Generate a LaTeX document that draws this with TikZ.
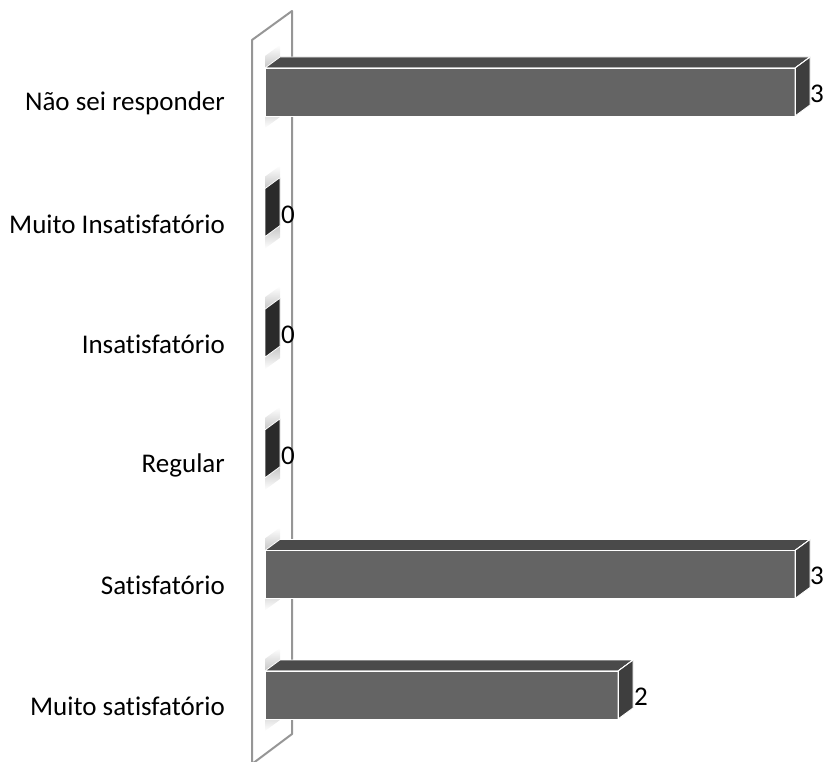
\documentclass[tikz,border=0pt]{standalone}
\usepackage{fontspec}
\setmainfont[Ligatures={NoCommon}]{Carlito}
\definecolor{barfront}{RGB}{100,100,100}
\definecolor{bartop}{RGB}{74,74,74}
\definecolor{barside}{RGB}{62,62,62}
\definecolor{barzero}{RGB}{42,42,42}
\definecolor{wallline}{RGB}{150,150,150}
\tikzset{
  catlabel/.style={anchor=east, inner sep=0pt, font=\fontsize{27}{32}\selectfont},
  vallabel/.style={anchor=west, inner sep=0pt, font=\fontsize{27}{32}\selectfont},
  face/.style={draw=white, line width=0.8pt, line join=round},
  shadowup/.style={top color=white, bottom color=gray!45},
  shadowdown/.style={top color=gray!45, bottom color=white}
}
% #1 y of bar centre, #2 x of bar end
\newcommand{\chartbar}[2]{%
  \shade[shadowup] (265,#1-24) -- (280,#1-35) -- (280,#1-47) -- (265,#1-36) -- cycle;
  \shade[shadowdown] (265,#1+24) -- (280,#1+13) -- (280,#1+25) -- (265,#1+36) -- cycle;
  \fill[face, fill=bartop] (265,#1-24) -- (280,#1-35) -- (#2+15,#1-35) -- (#2,#1-24) -- cycle;
  \fill[face, fill=barside] (#2,#1-24) -- (#2+15,#1-35) -- (#2+15,#1+13) -- (#2,#1+24) -- cycle;
  \fill[face, fill=barfront] (265,#1-24) rectangle (#2,#1+24);
  \draw[white, line width=0.8pt] (265,#1-24) -- (#2,#1-24) -- (#2+15,#1-35) (#2,#1-24) -- (#2,#1+24);
}
\newcommand{\zerobar}[1]{%
  \shade[shadowup] (265,#1-24) -- (280,#1-35) -- (280,#1-47) -- (265,#1-36) -- cycle;
  \shade[shadowdown] (265,#1+24) -- (280,#1+13) -- (280,#1+25) -- (265,#1+36) -- cycle;
  \fill[face, fill=barzero] (265,#1-24) -- (280,#1-35) -- (280,#1+13) -- (265,#1+24) -- cycle;
}

\begin{document}
\begin{tikzpicture}[x=1pt, y=-1pt]
    \useasboundingbox (0,0) rectangle (827,762);
    \clip (0,0) rectangle (827,762);
    % wall
    \draw[wallline, line width=2pt, line join=round]
        (252,40) -- (292,11) -- (292,734) -- (252,764) -- cycle;

    % bars
    \chartbar{92}{795}
    \zerobar{212.6}
    \zerobar{333.2}
    \zerobar{453.8}
    \chartbar{574.4}{795}
    \chartbar{695}{618}

    % category labels
    \node[catlabel] (cat1) at (225,103) {Não sei responder};
    \node[catlabel] (cat2) at (225,224) {Muito Insatisfatório};
    \node[catlabel] (cat3) at (225,344) {Insatisfatório};
    \node[catlabel] (cat4) at (225,465) {Regular};
    \node[catlabel] (cat5) at (225,585) {Satisfatório};
    \node[catlabel] (cat6) at (225,706) {Muito satisfatório};

    % values
    \node[vallabel] (val1) at (810,94) {3};
    \node[vallabel] (val2) at (281,215) {0};
    \node[vallabel] (val3) at (281,335) {0};
    \node[vallabel] (val4) at (281,456) {0};
    \node[vallabel] (val5) at (810,576) {3};
    \node[vallabel] (val6) at (634,697) {2};
\end{tikzpicture}
\end{document}
